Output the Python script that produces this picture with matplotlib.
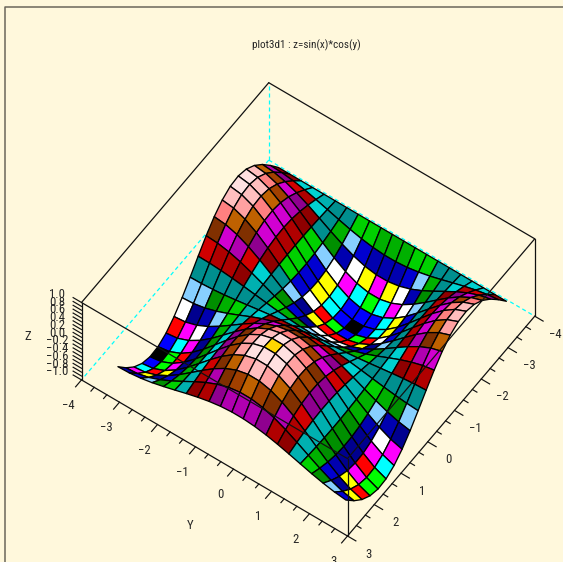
import matplotlib
matplotlib.use("Agg")
import matplotlib.pyplot as plt
from matplotlib.collections import PolyCollection
from matplotlib import font_manager as fm

# ---------- data ----------
X_GRID = [-3.142, -2.842, -2.542, -2.242, -1.942, -1.642, -1.342, -1.042, -0.742, -0.442, -0.142,
          0.158, 0.458, 0.758, 1.058, 1.358, 1.658, 1.958, 2.258, 2.558, 2.858]
Y_GRID = list(X_GRID)
Z_ROWS = [
 [0]*21,
 [.296,.282,.244,.184,.107,.021,-.067,-.149,-.218,-.267,-.292,-.292,-.265,-.214,-.145,-.062,.026,.112,.188,.247,.284],
 [.565,.539,.466,.351,.205,.040,-.128,-.285,-.416,-.511,-.559,-.558,-.506,-.410,-.277,-.119,.049,.213,.358,.471,.542],
 [.783,.748,.646,.487,.284,.055,-.178,-.395,-.578,-.708,-.775,-.774,-.702,-.569,-.384,-.165,.069,.296,.497,.654,.752],
 [.932,.890,.769,.579,.338,.066,-.212,-.470,-.687,-.843,-.923,-.920,-.836,-.677,-.457,-.196,.082,.352,.592,.778,.895],
 [.998,.953,.823,.620,.361,.071,-.227,-.504,-.736,-.902,-.988,-.985,-.895,-.724,-.489,-.210,.087,.377,.633,.833,.958],
 [.974,.930,.804,.605,.353,.069,-.221,-.492,-.718,-.880,-.964,-.962,-.873,-.707,-.477,-.205,.085,.368,.618,.813,.935],
 [.863,.825,.712,.537,.313,.061,-.196,-.436,-.637,-.780,-.855,-.852,-.774,-.627,-.423,-.182,.076,.326,.548,.721,.829],
 [.676,.645,.557,.420,.245,.048,-.153,-.341,-.498,-.611,-.669,-.667,-.606,-.490,-.331,-.142,.059,.255,.429,.564,.649],
 [.427,.408,.353,.266,.155,.030,-.097,-.216,-.315,-.386,-.423,-.422,-.383,-.310,-.210,-.090,.037,.162,.271,.357,.410],
 [.141,.135,.116,.088,.051,.010,-.032,-.071,-.104,-.128,-.140,-.139,-.127,-.102,-.069,-.030,.012,.053,.090,.118,.135],
 [-.158,-.151,-.130,-.098,-.057,-.011,.036,.080,.116,.143,.156,.156,.141,.114,.077,.033,-.014,-.060,-.100,-.132,-.151],
 [-.443,-.423,-.365,-.275,-.160,-.031,.101,.223,.326,.400,.438,.437,.397,.321,.217,.093,-.039,-.167,-.281,-.369,-.425],
 [-.688,-.657,-.568,-.428,-.249,-.049,.156,.347,.507,.622,.681,.679,.617,.499,.337,.145,-.060,-.260,-.437,-.574,-.660],
 [-.872,-.833,-.719,-.542,-.316,-.062,.198,.440,.643,.788,.863,.861,.782,.633,.427,.184,-.076,-.329,-.553,-.728,-.837],
 [-.978,-.934,-.807,-.608,-.354,-.069,.222,.493,.721,.884,.968,.965,.877,.710,.479,.206,-.086,-.370,-.620,-.816,-.939],
 [-.996,-.952,-.822,-.619,-.361,-.070,.226,.503,.735,.901,.986,.984,.893,.723,.488,.210,-.087,-.377,-.632,-.832,-.957],
 [-.926,-.884,-.764,-.576,-.336,-.065,.210,.467,.683,.837,.917,.914,.830,.672,.454,.195,-.081,-.350,-.588,-.773,-.889],
 [-.773,-.738,-.638,-.480,-.280,-.055,.176,.390,.570,.699,.765,.763,.693,.561,.379,.163,-.068,-.292,-.490,-.645,-.742],
 [-.551,-.526,-.455,-.342,-.200,-.039,.125,.278,.406,.498,.545,.544,.494,.400,.270,.116,-.048,-.208,-.350,-.460,-.529],
 [-.279,-.267,-.231,-.174,-.101,-.020,.064,.141,.206,.253,.277,.276,.251,.203,.137,.059,-.024,-.106,-.177,-.233,-.268],
]
XY_TICKS = [-4, -3, -2, -1, 0, 1, 2, 3]
XY_TICK_LABELS = ["\u22124", "\u22123", "\u22122", "\u22121", "0", "1", "2", "3"]
Z_TICKS = [1.0, 0.8, 0.6, 0.4, 0.2, 0.0, -0.2, -0.4, -0.6, -0.8, -1.0]
Z_TICK_LABELS = ["1.0", "0.8", "0.6", "0.4", "0.2", "0.0", "\u22120.2", "\u22120.4", "\u22120.6", "\u22120.8", "\u22121.0"]
TITLE = "plot3d1 : z=sin(x)*cos(y)"
PALETTE = [
 (0,0,0),(0,0,1),(0,1,0),(0,1,1),(1,0,0),(1,0,1),(1,1,0),(1,1,1),
 (0,0,.56),(0,0,.69),(0,0,.82),(.53,.81,1),(0,.56,0),(0,.69,0),(0,.82,0),(0,.56,.56),
 (0,.69,.69),(0,.82,.82),(.56,0,0),(.69,0,0),(.82,0,0),(.56,0,.56),(.69,0,.69),(.82,0,.82),
 (.5,.19,0),(.63,.25,0),(.75,.38,0),(1,.5,.5),(1,.63,.63),(1,.75,.75),(1,.88,.88),(1,.84,0),
]

# ---------- view (orthographic projection onto the canvas) ----------
W, H = 563, 562
FRONT = (347.5, 536.0)
EX = (-26.75, 31.4)
EY = (38.0, 22.3)
EZ = (0.0, -38.7)
XMIN, XMAX, YMIN, YMAX, ZMIN, ZMAX = -4, 3, -4, 3, -1, 1
BG = "#FFF8DC"

def proj(x, y, z):
    return (FRONT[0] + (x - XMAX)*EX[0] + (y - YMAX)*EY[0] + (z - ZMIN)*EZ[0],
            FRONT[1] + (x - XMAX)*EX[1] + (y - YMAX)*EY[1] + (z - ZMIN)*EZ[1])

names = {f.name for f in fm.fontManager.ttflist}
FONT = next(n for n in ["Liberation Sans Narrow", "Roboto Condensed", "Roboto", "Liberation Sans"] if n in names)
TXT = "#262626"

fig = plt.figure(figsize=(W/100, H/100), dpi=100, facecolor=BG)
ax = fig.add_axes([0, 0, 1, 1])
ax.set_xlim(0, W); ax.set_ylim(H, 0); ax.axis("off")

# page frame
ax.plot([5.2, 5.2, W], [H, 6.6, 6.6], color="#6b675a", lw=1.1, zorder=0)

def edge(a, b, **kw):
    p, q = proj(*a), proj(*b)
    ax.plot([p[0], q[0]], [p[1], q[1]], **kw)

solid = dict(color="#111111", lw=0.9, solid_capstyle="round")
dash = dict(color="#00FFFF", lw=0.9, dashes=(3.2, 2.4))

# rear box
edge((XMIN,YMIN,ZMIN), (XMAX,YMIN,ZMIN), zorder=1, **dash)
edge((XMIN,YMIN,ZMIN), (XMIN,YMAX,ZMIN), zorder=1, **dash)
edge((XMIN,YMIN,ZMIN), (XMIN,YMIN,ZMAX), zorder=1, **dash)
edge((XMIN,YMIN,ZMAX), (XMAX,YMIN,ZMAX), zorder=1, **solid)
edge((XMIN,YMIN,ZMAX), (XMIN,YMAX,ZMAX), zorder=1, **solid)
edge((XMAX,YMIN,ZMIN), (XMAX,YMIN,ZMAX), zorder=1, **solid)
edge((XMIN,YMAX,ZMIN), (XMIN,YMAX,ZMAX), zorder=1, **solid)
edge((XMAX,YMIN,ZMIN), (XMAX,YMAX,ZMIN), zorder=1, **solid)
edge((XMIN,YMAX,ZMIN), (XMAX,YMAX,ZMIN), zorder=1, **solid)

# surface, painted from the back corner forward
zlo = min(min(r) for r in Z_ROWS)
zhi = max(max(r) for r in Z_ROWS)
polys, cols = [], []
for i in range(len(X_GRID) - 1):
    for j in range(len(Y_GRID) - 1):
        corners = [(i, j), (i+1, j), (i+1, j+1), (i, j+1)]
        polys.append([proj(X_GRID[a], Y_GRID[b], Z_ROWS[a][b]) for a, b in corners])
        zm = sum(Z_ROWS[a][b] for a, b in corners) / 4
        cols.append(PALETTE[int(round(31*(zm - zlo)/(zhi - zlo)))])
ax.add_collection(PolyCollection(polys, facecolors=cols, edgecolors="#000000",
                                 linewidths=0.95, zorder=2, joinstyle="round"))

# front box edges are drawn over the surface
edge((XMAX,YMIN,ZMAX), (XMAX,YMAX,ZMAX), zorder=3, **solid)
edge((XMIN,YMAX,ZMAX), (XMAX,YMAX,ZMAX), zorder=3, **solid)
edge((XMAX,YMAX,ZMIN), (XMAX,YMAX,ZMAX), zorder=3, **solid)

# ticks
MAJ, MINOR = 0.22, 0.12
tick = dict(color="#111111", lw=0.85, zorder=3)
for k in range(len(XY_TICKS) - 1):
    for m in range(3):
        v = XY_TICKS[k] + m/3
        L = MAJ if m == 0 else MINOR
        edge((XMAX, v, ZMIN), (XMAX + L, v, ZMIN), **tick)
        edge((v, YMAX, ZMIN), (v, YMAX + L, ZMIN), **tick)
edge((XMAX, YMAX, ZMIN), (XMAX + MAJ, YMAX, ZMIN), **tick)
edge((XMAX, YMAX, ZMIN), (XMAX, YMAX + MAJ, ZMIN), **tick)
for k in range(len(Z_TICKS) - 1):
    for z in (Z_TICKS[k], (Z_TICKS[k] + Z_TICKS[k+1]) / 2):
        edge((XMAX, YMIN, z), (XMAX, YMIN - MAJ, z), **tick)
edge((XMAX, YMIN, ZMIN), (XMAX, YMIN - MAJ, ZMIN), **tick)

# labels
lab = dict(family=[FONT, "Liberation Sans"], color=TXT, ha="center", va="center", zorder=4)
for v, s in zip(XY_TICKS, XY_TICK_LABELS):
    p = proj(XMAX, v, ZMIN)
    ax.text(p[0] - 13.5, p[1] + 25.5, s, fontsize=9.2, **lab)
    p = proj(v, YMAX, ZMIN)
    ax.text(p[0] + 21, p[1] + 18, s, fontsize=9.2, **lab)
for v, s in zip(Z_TICKS, Z_TICK_LABELS):
    p = proj(XMAX, YMIN, v)
    ax.text(p[0] - 24.5, p[1] - 8, s, fontsize=9.2, **lab)
ax.text(28, 336.5, "Z", fontsize=9.2, **lab)
ax.text(190, 525.5, "Y", fontsize=9.2, **lab)
ax.text(306, 45, TITLE, fontsize=8, **lab)

fig.savefig("out.png", dpi=100, facecolor=BG)
